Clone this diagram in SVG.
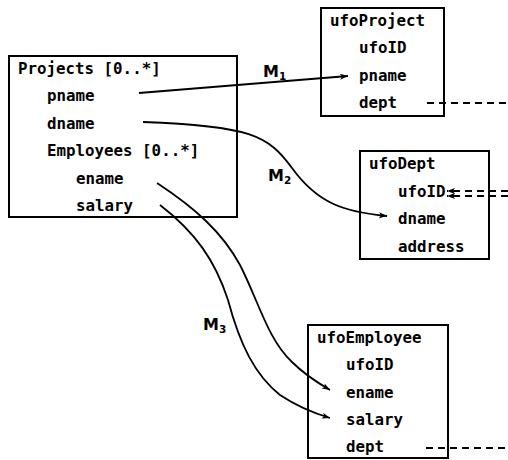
<svg xmlns="http://www.w3.org/2000/svg" width="508" height="460" viewBox="0 0 508 460">
<style>
.box{fill:#fff;stroke:#000;stroke-width:2}
.t{font-family:"DejaVu Sans Mono",monospace;font-size:15.8px;font-weight:bold;fill:#000}
.c{fill:none;stroke:#000;stroke-width:1.8}
.d{fill:none;stroke:#000;stroke-width:1.8;stroke-dasharray:7,5}
.m{font-family:"DejaVu Sans",sans-serif;font-weight:bold;font-size:16px;fill:#000}
.s{font-size:10.5px}
</style>
<defs>
<marker id="ah" markerWidth="10" markerHeight="8" refX="8" refY="3" orient="auto" markerUnits="userSpaceOnUse">
<path d="M0,0 L8,3 L0,6 L2,3 z" fill="#000"/>
</marker>
</defs>
<g id="projects">
<rect class="box" x="9" y="56" width="228" height="161"/>
<text class="t" x="18" y="74">Projects [0..*]</text>
<text class="t" x="47" y="101">pname</text>
<text class="t" x="47" y="129">dname</text>
<text class="t" x="47" y="156">Employees [0..*]</text>
<text class="t" x="76" y="184">ename</text>
<text class="t" x="76" y="211">salary</text>
</g>
<g id="ufoProject">
<rect class="box" x="321" y="8" width="123" height="108"/>
<text class="t" x="330" y="26">ufoProject</text>
<text class="t" x="359" y="53">ufoID</text>
<text class="t" x="359" y="81">pname</text>
<text class="t" x="359" y="108">dept</text>
</g>
<g id="ufoDept">
<rect class="box" x="360" y="151" width="129" height="108"/>
<text class="t" x="369" y="169">ufoDept</text>
<text class="t" x="398" y="197">ufoID</text>
<text class="t" x="398" y="224">dname</text>
<text class="t" x="398" y="252">address</text>
</g>
<g id="ufoEmployee">
<rect class="box" x="308" y="325" width="140" height="133"/>
<text class="t" x="317" y="343">ufoEmployee</text>
<text class="t" x="346" y="370">ufoID</text>
<text class="t" x="346" y="398">ename</text>
<text class="t" x="346" y="425">salary</text>
<text class="t" x="346" y="452">dept</text>
</g>
<g id="connectors">
<path class="c" d="M139,93 L348,76" marker-end="url(#ah)"/>
<path class="c" d="M143,122 C250,126 268,135 292,168 C318,204 345,212 387,216" marker-end="url(#ah)"/>
<path class="c" d="M157,183 C195,208 222,232 240,265 C258,300 268,340 292,362 C305,375 318,383 330,390" marker-end="url(#ah)"/>
<path class="c" d="M160,205 C195,232 215,260 228,300 C240,345 255,375 280,395 C295,405 310,412 330,418" marker-end="url(#ah)"/>
<path class="d" d="M427,103 L508,103"/>
<path class="d" d="M508,191 L447,191" marker-end="url(#ah)"/>
<path class="d" d="M508,196 L447,196" marker-end="url(#ah)"/>
<path class="d" d="M426,448 L508,448"/>
<text class="m" x="263" y="77">M<tspan class="s" dy="3">1</tspan></text>
<text class="m" x="268" y="181">M<tspan class="s" dy="3">2</tspan></text>
<text class="m" x="203" y="330">M<tspan class="s" dy="3">3</tspan></text>
</g>
</svg>
